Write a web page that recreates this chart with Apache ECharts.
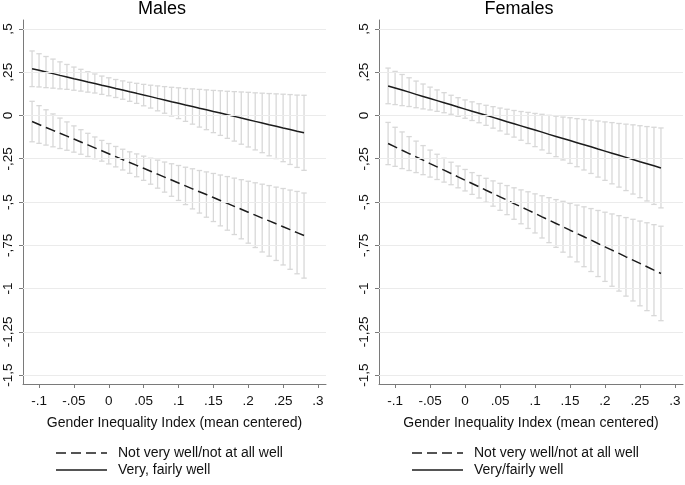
<!DOCTYPE html>
<html><head><meta charset="utf-8">
<script src="https://cdn.jsdelivr.net/npm/echarts@6/dist/echarts.min.js"></script>
<style>html,body{margin:0;padding:0;background:#fff}#c{width:685px;height:485px}</style>
</head><body><div id="c"></div>
<script>
// ---- data ----
const panelTitles = ['Males', 'Females'];
const xAxisTitle = 'Gender Inequality Index (mean centered)';
const xValues = [-0.11,-0.10,-0.09,-0.08,-0.07,-0.06,-0.05,-0.04,-0.03,-0.02,-0.01,0,0.01,0.02,0.03,0.04,0.05,0.06,0.07,0.08,0.09,0.10,0.11,0.12,0.13,0.14,0.15,0.16,0.17,0.18,0.19,0.20,0.21,0.22,0.23,0.24,0.25,0.26,0.27,0.28];
const xTickValues = [-0.1,-0.05,0,0.05,0.1,0.15,0.2,0.25,0.3];
const xTickLabels = ['-.1','-.05','0','.05','.1','.15','.2','.25','.3'];
const yTickValues = [0.5,0.25,0,-0.25,-0.5,-0.75,-1,-1.25,-1.5];
const yTickLabels = [',5',',25','0','-,25','-,5','-,75','-1','-1,25','-1,5'];

const seriesNotWell = 'Not very well/not at all well';
const seriesWellMales = 'Very, fairly well';
const seriesWellFemales = 'Very/fairly well';

// Males
const malesWellFit = [0.270,0.261,0.251,0.242,0.232,0.223,0.213,0.204,0.194,0.185,0.175,0.166,0.156,0.147,0.137,0.128,0.118,0.109,0.099,0.090,0.080,0.071,0.061,0.052,0.042,0.033,0.023,0.014,0.004,-0.005,-0.015,-0.024,-0.034,-0.043,-0.053,-0.062,-0.072,-0.081,-0.091,-0.100];
const malesWellCI = [0.103,0.096,0.090,0.084,0.078,0.072,0.067,0.063,0.059,0.055,0.053,0.052,0.052,0.053,0.055,0.058,0.062,0.066,0.072,0.077,0.083,0.089,0.095,0.102,0.109,0.115,0.122,0.129,0.136,0.143,0.151,0.158,0.165,0.172,0.180,0.187,0.195,0.202,0.209,0.217];
const malesNotFit = [-0.035,-0.052,-0.069,-0.086,-0.103,-0.119,-0.136,-0.153,-0.170,-0.187,-0.204,-0.221,-0.238,-0.255,-0.272,-0.288,-0.305,-0.322,-0.339,-0.356,-0.373,-0.390,-0.407,-0.424,-0.441,-0.457,-0.474,-0.491,-0.508,-0.525,-0.542,-0.559,-0.576,-0.593,-0.609,-0.626,-0.643,-0.660,-0.677,-0.694];
const malesNotCI = [0.117,0.109,0.102,0.095,0.088,0.082,0.076,0.071,0.067,0.063,0.060,0.059,0.059,0.060,0.062,0.066,0.070,0.075,0.081,0.087,0.094,0.101,0.108,0.116,0.123,0.131,0.139,0.147,0.155,0.163,0.171,0.179,0.187,0.196,0.204,0.212,0.221,0.229,0.238,0.246];
// Females
const femalesWellFit = [0.171,0.159,0.147,0.135,0.122,0.110,0.098,0.086,0.074,0.062,0.049,0.037,0.025,0.013,0.001,-0.011,-0.023,-0.036,-0.048,-0.060,-0.072,-0.084,-0.096,-0.109,-0.121,-0.133,-0.145,-0.157,-0.169,-0.181,-0.194,-0.206,-0.218,-0.230,-0.242,-0.254,-0.267,-0.279,-0.291,-0.303];
const femalesWellCI = [0.103,0.096,0.090,0.083,0.077,0.072,0.066,0.062,0.058,0.055,0.054,0.053,0.054,0.055,0.058,0.062,0.066,0.072,0.077,0.083,0.090,0.096,0.103,0.110,0.117,0.124,0.132,0.139,0.146,0.154,0.162,0.169,0.177,0.184,0.192,0.200,0.208,0.215,0.223,0.231];
const femalesNotFit = [-0.162,-0.181,-0.201,-0.220,-0.239,-0.258,-0.278,-0.297,-0.316,-0.335,-0.355,-0.374,-0.393,-0.412,-0.432,-0.451,-0.470,-0.489,-0.509,-0.528,-0.547,-0.566,-0.586,-0.605,-0.624,-0.643,-0.663,-0.682,-0.701,-0.720,-0.740,-0.759,-0.778,-0.797,-0.817,-0.836,-0.855,-0.874,-0.894,-0.913];
const femalesNotCI = [0.122,0.113,0.106,0.098,0.091,0.084,0.078,0.073,0.069,0.065,0.063,0.062,0.063,0.065,0.069,0.073,0.078,0.084,0.091,0.098,0.106,0.113,0.122,0.130,0.138,0.147,0.155,0.164,0.173,0.182,0.191,0.200,0.209,0.218,0.227,0.236,0.245,0.254,0.263,0.273];

// ---- chart ----
const FONT = '"Liberation Sans", Arial, Helvetica, sans-serif';
const TXT = '#111';
const AXC = '#7a7a7a';
const LINEC = '#1c1c1c';
const BARC = '#d8d8d8';
const DASH = [10, 5];

function lookup(vals, labs, v) {
  const i = vals.findIndex(t => Math.abs(t - v) < 1e-9);
  return i >= 0 ? labs[i] : '';
}
function lineData(fit) { return xValues.map((x, i) => [x, fit[i]]); }
function errData(fit, ci) { return xValues.map((x, i) => [x, +(fit[i] - ci[i]).toFixed(4), +(fit[i] + ci[i]).toFixed(4)]); }

function renderErr(params, api) {
  const x = api.value(0), lo = api.value(1), hi = api.value(2);
  const p1 = api.coord([x, hi]), p2 = api.coord([x, lo]);
  const w = 2.7;
  const st = { stroke: BARC, lineWidth: 1.3 };
  return { type: 'group', children: [
    { type: 'line', shape: { x1: p1[0], y1: p1[1], x2: p2[0], y2: p2[1] }, style: st },
    { type: 'line', shape: { x1: p1[0] - w, y1: p1[1], x2: p1[0] + w, y2: p1[1] }, style: st },
    { type: 'line', shape: { x1: p2[0] - w, y1: p2[1], x2: p2[0] + w, y2: p2[1] }, style: st }
  ]};
}

const grids = [
  { left: 23, top: 20, width: 303, height: 364 },
  { left: 379, top: 20, width: 304, height: 364 }
];

function xAxisFor(i) {
  return {
    type: 'value', gridIndex: i, min: -0.123, max: 0.3115,
    name: xAxisTitle, nameLocation: 'middle', nameGap: 32,
    nameTextStyle: { fontFamily: FONT, fontSize: 14, color: TXT },
    axisLine: { show: true, onZero: false, lineStyle: { color: AXC, width: 1 } },
    axisTick: { show: true, length: 4, customValues: xTickValues, lineStyle: { color: AXC } },
    axisLabel: { customValues: xTickValues, margin: 10, fontFamily: FONT, fontSize: 13.5, color: TXT,
      formatter: v => lookup(xTickValues, xTickLabels, v) },
    splitLine: { show: false }
  };
}
function yAxisFor(i) {
  return {
    type: 'value', gridIndex: i, min: -1.552, max: 0.552,
    axisLine: { show: true, onZero: false, lineStyle: { color: AXC, width: 1 } },
    axisTick: { show: true, length: 4, customValues: yTickValues, lineStyle: { color: AXC } },
    axisLabel: { customValues: yTickValues, rotate: 90, margin: 8, fontFamily: FONT, fontSize: 13.5, color: TXT,
      formatter: v => lookup(yTickValues, yTickLabels, v) },
    splitLine: { show: false }
  };
}

function gridLineSeries(i) {
  return {
    type: 'line', xAxisIndex: i, yAxisIndex: i, data: [], silent: true, z: 0,
    markLine: { silent: true, symbol: ['none', 'none'], animation: false,
      label: { show: false }, emphasis: { disabled: true },
      lineStyle: { color: '#ebebeb', width: 1, type: 'solid' },
      data: yTickValues.map(v => ({ yAxis: v })) }
  };
}
function errSeries(i, name, fit, ci) {
  return { type: 'custom', name: name + ' CI', xAxisIndex: i, yAxisIndex: i, z: 2, silent: true,
    renderItem: renderErr, encode: { x: 0, y: [1, 2] }, data: errData(fit, ci) };
}
function fitSeries(i, name, fit, dashed) {
  return { type: 'line', name: name, xAxisIndex: i, yAxisIndex: i, z: 3, silent: true,
    symbol: 'none', data: lineData(fit),
    lineStyle: { color: LINEC, width: 1.5, type: dashed ? DASH : 'solid' },
    itemStyle: { color: LINEC } };
}
function legendGraphics(x0, names) {
  const rows = [453, 470];
  const out = [];
  names.forEach((n, k) => {
    out.push({ type: 'line', silent: true, shape: { x1: x0, y1: rows[k], x2: x0 + 51, y2: rows[k] },
      style: { stroke: LINEC, lineWidth: 1.5, lineDash: k === 0 ? DASH : null } });
    out.push({ type: 'text', silent: true, x: x0 + 62, y: rows[k],
      style: { text: n, fontFamily: FONT, fontSize: 14, fill: TXT, verticalAlign: 'middle', align: 'left' } });
  });
  return out;
}

const option = {
  animation: false,
  backgroundColor: '#fff',
  grid: grids,
  xAxis: [xAxisFor(0), xAxisFor(1)],
  yAxis: [yAxisFor(0), yAxisFor(1)],
  graphic: [
    { type: 'text', x: 162, y: 9, silent: true, style: { text: panelTitles[0], fontFamily: FONT, fontSize: 18, fill: '#000', align: 'center', verticalAlign: 'middle' } },
    { type: 'text', x: 519, y: 9, silent: true, style: { text: panelTitles[1], fontFamily: FONT, fontSize: 18, fill: '#000', align: 'center', verticalAlign: 'middle' } }
  ].concat(legendGraphics(56, [seriesNotWell, seriesWellMales]), legendGraphics(412, [seriesNotWell, seriesWellFemales])),
  series: [
    gridLineSeries(0), gridLineSeries(1),
    errSeries(0, seriesWellMales, malesWellFit, malesWellCI),
    errSeries(0, seriesNotWell, malesNotFit, malesNotCI),
    fitSeries(0, seriesNotWell, malesNotFit, true),
    fitSeries(0, seriesWellMales, malesWellFit, false),
    errSeries(1, seriesWellFemales, femalesWellFit, femalesWellCI),
    errSeries(1, seriesNotWell, femalesNotFit, femalesNotCI),
    fitSeries(1, seriesNotWell, femalesNotFit, true),
    fitSeries(1, seriesWellFemales, femalesWellFit, false)
  ]
};
const chart = echarts.init(document.getElementById('c'), null, { renderer: 'canvas' });
chart.setOption(option);
</script>
</body></html>
